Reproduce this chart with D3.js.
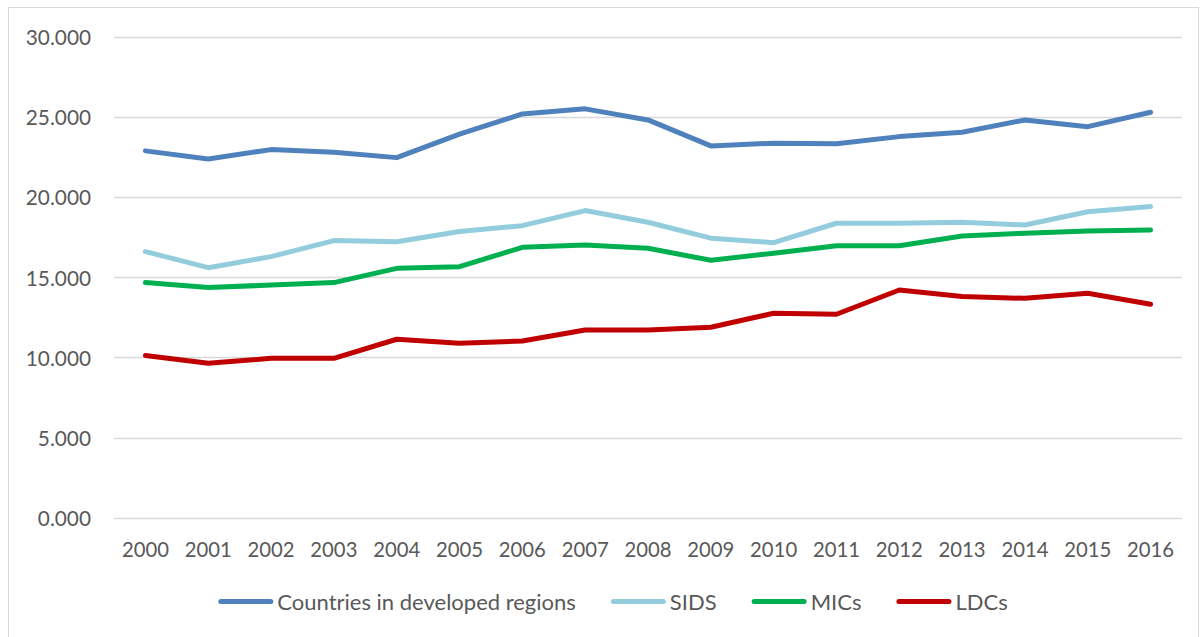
<!DOCTYPE html>
<html>
<head>
<meta charset="utf-8">
<script src="https://cdn.jsdelivr.net/npm/d3@7"></script>
<style>
  html, body { margin: 0; padding: 0; background: #ffffff; }
  svg { display: block; }
  text { font-family: Lato, "Open Sans", sans-serif; fill: #595959; }
</style>
</head>
<body>
<svg id="chart" width="1201" height="637"></svg>
<script>
const years = ["2000","2001","2002","2003","2004","2005","2006","2007","2008","2009","2010","2011","2012","2013","2014","2015","2016"];
const developed = [22.87,22.37,22.95,22.79,22.45,23.91,25.17,25.49,24.80,23.18,23.35,23.32,23.76,24.03,24.80,24.38,25.28];
const sids      = [16.59,15.59,16.28,17.28,17.21,17.84,18.21,19.15,18.42,17.43,17.15,18.36,18.36,18.42,18.25,19.08,19.40];
const mics      = [14.66,14.35,14.51,14.66,15.55,15.65,16.86,17.01,16.80,16.05,16.49,16.96,16.96,17.57,17.74,17.88,17.94];
const ldcs      = [10.11,9.63,9.94,9.94,11.13,10.88,11.02,11.71,11.70,11.88,12.75,12.69,14.20,13.79,13.68,14.00,13.31];
const yTicks = [0,5,10,15,20,25,30];
const seriesNames = ["Countries in developed regions","SIDS","MICs","LDCs"];
const seriesColors = ["#4f81bd","#93cddd","#00b050","#c00000"];
const seriesValues = [developed, sids, mics, ldcs];

const svg = d3.select("#chart");

// outer chart border
svg.append("rect")
  .attr("x", 8.5).attr("y", 7.5)
  .attr("width", 1190).attr("height", 640)
  .attr("fill", "none").attr("stroke", "#d9d9d9").attr("stroke-width", 1);

const x = d3.scalePoint().domain(years).range([114, 1182]).padding(0.5);
const y = d3.scaleLinear().domain([0, 30]).range([517.8, 36.5]);

// gridlines
svg.append("g").selectAll("line").data(yTicks).join("line")
  .attr("x1", 114).attr("x2", 1182)
  .attr("y1", d => Math.round(y(d)) + 0.5).attr("y2", d => Math.round(y(d)) + 0.5)
  .attr("stroke", "#d9d9d9").attr("stroke-width", 1.3);

// y axis labels
const fmt = d3.format(".3f");
svg.append("g").selectAll("text").data(yTicks).join("text")
  .attr("x", 91).attr("y", d => y(d))
  .attr("text-anchor", "end").attr("dominant-baseline", "central")
  .style("font-size", "20.8px")
  .text(d => fmt(d));

// x axis labels
svg.append("g").selectAll("text").data(years).join("text")
  .attr("x", d => x(d)).attr("y", 549)
  .attr("text-anchor", "middle").attr("dominant-baseline", "central")
  .style("font-size", "20.3px")
  .text(d => d);

// lines
const line = d3.line().x((d, i) => x(years[i])).y(d => y(d));
svg.append("g").selectAll("path").data(seriesValues).join("path")
  .attr("d", d => line(d))
  .attr("fill", "none")
  .attr("stroke", (d, i) => seriesColors[i])
  .attr("stroke-width", 5)
  .attr("stroke-linecap", "round")
  .attr("stroke-linejoin", "round");

// legend
const legend = svg.append("g");
const legendY = 601.5;
const sampleLen = 55, textGap = 4, itemGap = 35;
let cx = 0;
seriesNames.forEach((name, i) => {
  const g = legend.append("g");
  g.append("line")
    .attr("x1", cx + 2.5).attr("x2", cx + sampleLen - 2.5)
    .attr("y1", legendY).attr("y2", legendY)
    .attr("stroke", seriesColors[i]).attr("stroke-width", 5)
    .attr("stroke-linecap", "round");
  const t = g.append("text")
    .attr("x", cx + sampleLen + textGap).attr("y", legendY)
    .attr("dominant-baseline", "central")
    .style("font-size", "22px")
    .text(name);
  const w = t.node().getComputedTextLength();
  cx += sampleLen + textGap + w + itemGap;
});
const total = cx - itemGap;
legend.attr("transform", `translate(${613 - total / 2},0)`);
</script>
</body>
</html>
